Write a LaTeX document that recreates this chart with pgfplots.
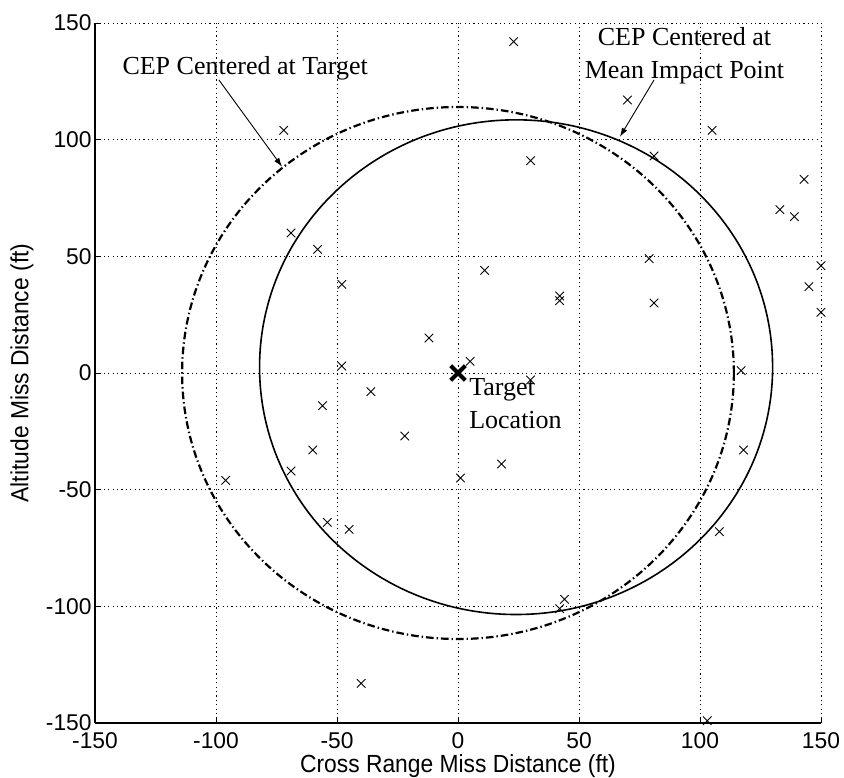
\documentclass[border=0pt]{standalone}
\usepackage{fontspec}
\usepackage{pgfplots}
\pgfplotsset{compat=1.18}
\usetikzlibrary{arrows.meta}
\setmainfont{Liberation Serif}
\newfontfamily\ticksans{Liberation Sans}
\newfontfamily\labsans[FakeStretch=0.92]{Liberation Sans}
\newcommand\tickfont{\ticksans\fontsize{11.4}{13}\selectfont}
\newcommand\labfont{\labsans\fontsize{12.4}{14}\selectfont}
\newcommand\annfont{\fontsize{13}{16.5}\selectfont}

% Individual impact points (cross range, altitude) in ft
\pgfplotstableread{
x    y
23   142
-72  104
70   117
105  104
30   91
81   93
143  83
133  70
139  67
-69  60
-58  53
11   44
79   49
150  46
-48  38
42   33
42   31
145  37
81   30
150  26
-12  15
-48  3
5    5
117  1
30   -3
-36  -8
-56  -14
-22  -27
-60  -33
18   -39
118  -33
-69  -42
-96  -46
1    -45
-54  -64
-45  -67
108  -68
44   -97
42   -101
-40  -133
103  -149
}\impacts

\begin{document}
\begin{tikzpicture}
\begin{axis}[
  scale only axis,
  width=363pt, height=350pt,
  xmin=-150, xmax=150, ymin=-150, ymax=150,
  xtick={-150,-100,-50,0,50,100,150},
  ytick={-150,-100,-50,0,50,100,150},
  xticklabels={-150,-100,-50,0,50,100,150},
  yticklabels={-150,-100,-50,0,50,100,150},
  axis x line*=bottom, axis y line*=left,
  axis line style={-, line width=0.6pt},
  grid=major,
  major grid style={black, line width=0.45pt, dash pattern=on 0.6pt off 1.6pt},
  tick align=inside, major tick length=2.5pt,
  tick style={black, line width=0.5pt},
  ticklabel style={font=\tickfont},
  xticklabel style={yshift=-1.5pt},
  yticklabel style={inner sep=1.5pt},
  xlabel={Cross Range Miss Distance (ft)},
  ylabel={Altitude Miss Distance (ft)},
  xlabel style={at={(axis description cs:0.5,-0.071)}, anchor=base, font=\labfont},
  ylabel style={at={(axis description cs:-0.1006,0.5)}, anchor=center, font=\labfont},
]
\coordinate (sw) at (rel axis cs:0,0);
\coordinate (ne) at (rel axis cs:1,1);

% CEP circles
\draw[black, line width=1.1pt, dash pattern=on 3.8pt off 1.5pt on 0.7pt off 1.5pt]
  (axis cs:0,0) ellipse [x radius=114, y radius=114];
\draw[black, line width=0.8pt]
  (axis cs:24,2.5) ellipse [x radius=106, y radius=106];

% impact points
\addplot[only marks, mark=x, mark size=3pt, mark options={line width=0.45pt}, black]
  table[x=x, y=y] {\impacts};

% target location
\addplot[only marks, mark=x, mark size=5.2pt, mark options={line width=2pt}, black]
  coordinates {(0,0)};

% annotations
\node[anchor=base west, inner sep=0pt, font=\annfont] at (axis cs:-138.8,127.8)
  {CEP Centered at Target};
\draw[line width=0.45pt, -{Latex[length=4.5pt,width=3pt]}]
  (axis cs:-98.8,125.6) -- (axis cs:-72.7,88.4);

\node[anchor=north, inner sep=0pt, align=center, font=\annfont] at (axis cs:93.6,148.4)
  {CEP Centered at\\Mean Impact Point};
\draw[line width=0.45pt, -{Latex[length=4.5pt,width=3pt]}]
  (axis cs:81,125.6) -- (axis cs:66.9,101.2);

\node[anchor=north west, inner sep=0pt, align=left, font=\annfont] at (axis cs:4.5,-2)
  {Target\\Location};
\end{axis}
\pgfresetboundingbox
\path ([shift={(-47.5pt,-27pt)}]sw) rectangle ([shift={(11.5pt,11.5pt)}]ne);
\end{tikzpicture}
\end{document}
